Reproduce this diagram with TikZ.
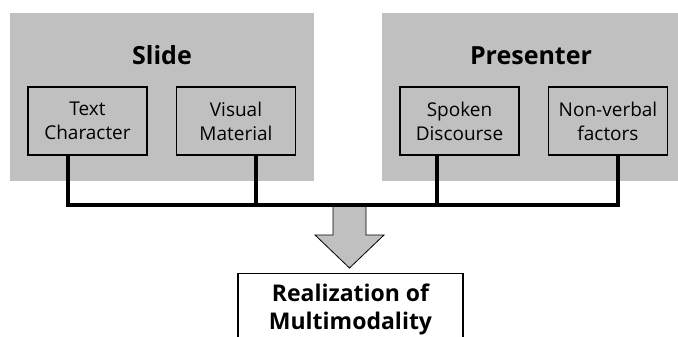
\documentclass[tikz,border=0pt]{standalone}
\usepackage{fontspec}
\setmainfont{Open Sans}
\usetikzlibrary{positioning}
\definecolor{boxgray}{HTML}{C0C0C0}
\begin{document}
\begin{tikzpicture}[x=1pt, y=-1pt, thick,
	group box/.style={fill=boxgray, draw=none, minimum height=168pt},
	title/.style={anchor=base, font=\fontsize{25}{30}\selectfont\bfseries},
	item box/.style={draw, fill=boxgray, line width=1.2pt, minimum width=119pt, minimum height=68pt, inner sep=2pt, align=center, font=\fontsize{19}{24}\selectfont},
	link/.style={line width=3.6pt},
	result box/.style={draw, fill=white, line width=1.2pt, minimum width=225pt, minimum height=72pt, anchor=north, align=center, font=\fontsize{23}{28}\selectfont\bfseries}]
	\useasboundingbox (0,0) rectangle (678,337);
	\clip (0,0) rectangle (678,337);
	% two groups
	\node[group box, minimum width=304pt] (slide) at (162,97) {};
	\node[group box, minimum width=300pt] (presenter) at (532,97) {};
	\node[title] (slide title) at (162,65) {Slide};
	\node[title] (presenter title) at (531,65) {Presenter};
	% items
	\node[item box] (text) at (87.5,121) {Text\\Character};
	\node[item box] (visual) at (236,121) {Visual\\Material};
	\node[item box] (spoken) at (459.5,121) {Spoken\\Discourse};
	\node[item box] (nonverbal) at (608,121) {Non-verbal\\factors};
	% arrow and result
	\coordinate (arrow top) at (349.5,205);
	\coordinate (arrow tip) at (349.5,268);
	\draw[fill=boxgray, line width=0.8pt] ([shift={(-16.5,0)}]arrow top) -- ([shift={(16.5,0)}]arrow top)
		-- ++(0,30) -- ++(18,0) -- (arrow tip) -- ([shift={(-34.5,-33)}]arrow tip) -- ++(18,0) -- cycle;
	\node[result box] (result) at (350.5,273) {Realization of\\Multimodality};
	% connectors
	\coordinate (bus left) at (68,205);
	\coordinate (bus right) at (618,205);
	\draw[link] ([xshift=-19.5pt]text.south) -- (bus left) -- (bus right) -- ([xshift=10pt]nonverbal.south);
	\draw[link] ([xshift=20pt]visual.south) -- ++(0,50);
	\draw[link] ([xshift=-22.5pt]spoken.south) -- ++(0,50);
\end{tikzpicture}
\end{document}
